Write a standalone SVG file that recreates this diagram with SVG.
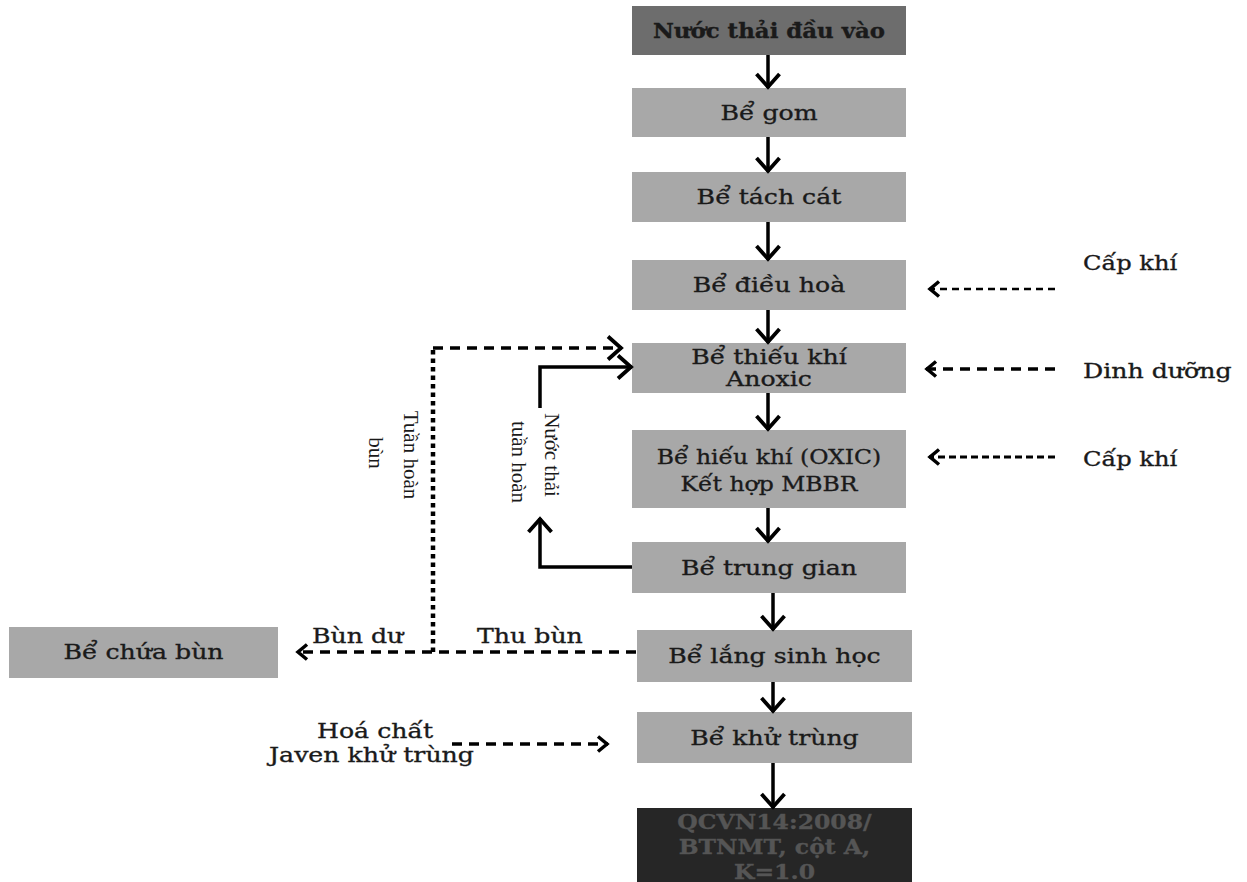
<svg xmlns="http://www.w3.org/2000/svg" width="1247" height="882" viewBox="0 0 1247 882">
<style>
.box{fill:#a8a8a8}
.dark{fill:#6d6d6d}
.black{fill:#262626}
.t{font-family:"DejaVu Serif","Liberation Serif",serif;font-size:21px;fill:#1a1a1a;stroke:#1a1a1a;stroke-width:0.35}
.c{text-anchor:middle}
.b{font-weight:bold}
.q{fill:#555555;stroke:#555555;font-weight:bold}
.v{font-family:"Liberation Serif",serif;font-size:21px;fill:#1a1a1a;text-anchor:middle}
.ln{fill:none;stroke:#000;stroke-width:3.5}
.main{marker-end:url(#ah)}
.d1{stroke-dasharray:10 7}
.d2{stroke-dasharray:7 5;stroke-width:2.6}
.d3{stroke-dasharray:7 4;stroke-width:3}
.dot{stroke-dasharray:4.5 4;stroke-width:4.5}
</style>
<defs>
<marker id="ah" viewBox="0 0 24 26" refX="19" refY="13" markerWidth="24" markerHeight="26" markerUnits="userSpaceOnUse" orient="auto">
<path d="M5,1.5 L18,13 L5,24.5" fill="none" stroke="#000" stroke-width="3.8"/>
</marker>
<marker id="as" viewBox="0 0 18 18" refX="14" refY="9" markerWidth="18" markerHeight="18" markerUnits="userSpaceOnUse" orient="auto">
<path d="M4,1.5 L13,9 L4,16.5" fill="none" stroke="#000" stroke-width="3.5"/>
</marker>
</defs>
<rect width="1247" height="882" fill="#ffffff"/>

<g id="n1"><rect class="dark" x="632" y="6" width="274" height="49"/><text class="t c b" transform="matrix(1.09 0 0 1 769 38)">Nước thải đầu vào</text></g>
<g id="n2"><rect class="box" x="632" y="88" width="274" height="49"/><text class="t c" transform="matrix(1.2 0 0 1 769 120)">Bể gom</text></g>
<g id="n3"><rect class="box" x="632" y="172" width="274" height="50"/><text class="t c" transform="matrix(1.2 0 0 1 769 204)">Bể tách cát</text></g>
<g id="n4"><rect class="box" x="632" y="260" width="274" height="50"/><text class="t c" transform="matrix(1.2 0 0 1 769 292)">Bể điều hoà</text></g>
<g id="n5"><rect class="box" x="632" y="343" width="274" height="50"/><text class="t c" transform="matrix(1.2 0 0 1 769 364)">Bể thiếu khí</text><text class="t c" transform="matrix(1.2 0 0 1 769 386)">Anoxic</text></g>
<g id="n6"><rect class="box" x="632" y="430" width="274" height="78"/><text class="t c" transform="matrix(1.12 0 0 1 769 464)">Bể hiếu khí (OXIC)</text><text class="t c" transform="matrix(1.12 0 0 1 769 491)">Kết hợp MBBR</text></g>
<g id="n7"><rect class="box" x="632" y="542" width="274" height="51"/><text class="t c" transform="matrix(1.2 0 0 1 769 575)">Bể trung gian</text></g>
<g id="n8"><rect class="box" x="637" y="630" width="275" height="52"/><text class="t c" transform="matrix(1.2 0 0 1 774.5 663)">Bể lắng sinh học</text></g>
<g id="n9"><rect class="box" x="637" y="712" width="275" height="51"/><text class="t c" transform="matrix(1.2 0 0 1 774.5 745)">Bể khử trùng</text></g>
<g id="n10"><rect class="black" x="637" y="808" width="275" height="74"/><text class="t c q" transform="matrix(1.12 0 0 1 774.5 829)">QCVN14:2008/</text><text class="t c q" transform="matrix(1.12 0 0 1 774.5 854)">BTNMT, cột A,</text><text class="t c q" transform="matrix(1.12 0 0 1 774.5 879)">K=1.0</text></g>
<g id="n11"><rect class="box" x="9" y="627" width="269" height="51"/><text class="t c" transform="matrix(1.2 0 0 1 143.5 659)">Bể chứa bùn</text></g>

<g id="labels">
<text class="t" transform="matrix(1.15 0 0 1 1083 270)">Cấp khí</text>
<text class="t" transform="matrix(1.2 0 0 1 1083 378)">Dinh dưỡng</text>
<text class="t" transform="matrix(1.15 0 0 1 1083 466)">Cấp khí</text>
<text class="t" transform="matrix(1.2 0 0 1 312 643)">Bùn dư</text>
<text class="t" transform="matrix(1.2 0 0 1 477 643)">Thu bùn</text>
<text class="t c" transform="matrix(1.2 0 0 1 375 738)">Hoá chất</text>
<text class="t c" transform="matrix(1.2 0 0 1 371.5 762)">Javen khử trùng</text>
<text class="v" transform="matrix(0 1 -1 0 404 455)">Tuần hoàn</text>
<text class="v" transform="matrix(0 1 -1 0 369 453)">bùn</text>
<text class="v" transform="matrix(0 1 -1 0 545 455)">Nước thải</text>
<text class="v" transform="matrix(0 1 -1 0 512 462)">tuần hoàn</text>
</g>

<g id="connectors">
<line class="ln main" x1="768" y1="55" x2="768" y2="88"/>
<line class="ln main" x1="768" y1="137" x2="768" y2="172"/>
<line class="ln main" x1="768" y1="222" x2="768" y2="260"/>
<line class="ln main" x1="768" y1="310" x2="768" y2="343"/>
<line class="ln main" x1="768" y1="393" x2="768" y2="430"/>
<line class="ln main" x1="768" y1="508" x2="768" y2="542"/>
<line class="ln main" x1="773" y1="593" x2="773" y2="630"/>
<line class="ln main" x1="773" y1="682" x2="773" y2="712"/>
<line class="ln main" x1="773" y1="763" x2="773" y2="808"/>
<polyline class="ln main" points="632,567 540,567 540,518"/>
<polyline class="ln main" points="540,408 540,367 632,367"/>
<line class="ln d1" x1="433" y1="348" x2="622" y2="348" marker-end="url(#ah)"/>
<line class="ln dot" x1="433" y1="350" x2="433" y2="652"/>
<line class="ln d1" x1="636" y1="652" x2="297" y2="652" marker-end="url(#as)"/>
<line class="ln d1" x1="452" y1="744" x2="608" y2="744" marker-end="url(#as)"/>
<line class="ln d2" x1="1055" y1="289" x2="929" y2="289" marker-end="url(#as)"/>
<line class="ln d1" x1="1055" y1="369" x2="926" y2="369" marker-end="url(#as)"/>
<line class="ln d3" x1="1055" y1="457" x2="929" y2="457" marker-end="url(#as)"/>
</g>
</svg>
